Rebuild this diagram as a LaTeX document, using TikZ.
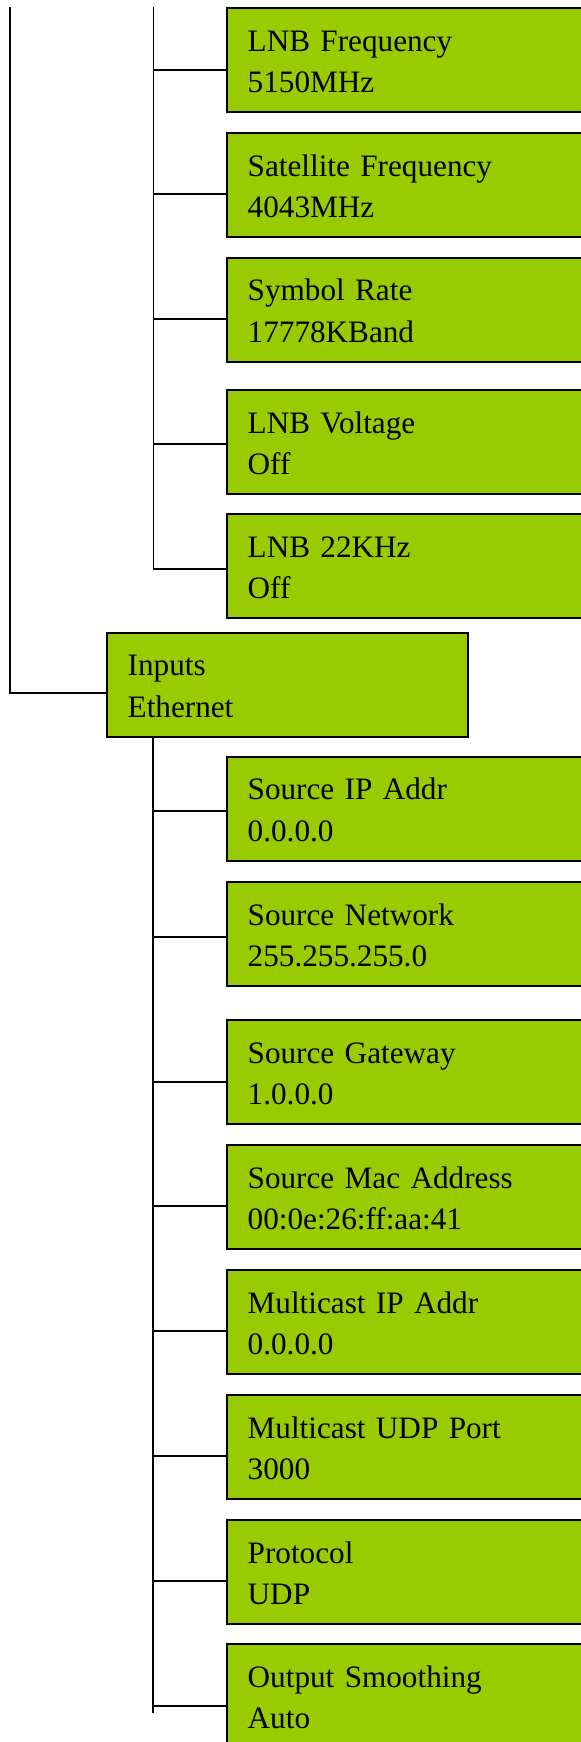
\documentclass[tikz,border=0pt]{standalone}
\usepackage{fontspec}
\setmainfont{Liberation Serif}
\definecolor{boxgreen}{RGB}{153,204,0}
\newcommand\menufont{\fontsize{15.6pt}{20.75pt}\selectfont}
\tikzset{
  menubox/.style={draw=black, line width=1pt, fill=boxgreen, anchor=north west,
    inner xsep=10.5pt, inner ysep=0pt, align=left, font=\menufont,
    text height=21.5pt, text depth=30.5pt},
  leafbox/.style={menubox, text width=169pt},
  wire/.style={draw=black, line width=0.9pt},
}
\begin{document}
\begin{tikzpicture}[x=0.5pt,y=-0.5pt]
\useasboundingbox (0,0) rectangle (581,1742);
\fill[white] (0,0) rectangle (581,1742);
\clip (0,0) rectangle (581,1742);
% upper leaf boxes
\node[leafbox] (b1) at (225.7,7.3) {LNB Frequency\\5150MHz};
\node[leafbox] (b2) at (225.7,132) {Satellite Frequency\\4043MHz};
\node[leafbox] (b3) at (225.7,256.7) {Symbol Rate\\17778KBand};
\node[leafbox] (b4) at (225.7,389) {LNB Voltage\\Off};
\node[leafbox] (b5) at (225.7,513) {LNB 22KHz\\Off};
% inputs box
\node[menubox, text width=159.5pt] (inp) at (105.7,631.7) {Inputs\\Ethernet};
% lower leaf boxes
\node[leafbox] (c1) at (225.7,755.7) {Source IP Addr\\0.0.0.0};
\node[leafbox] (c2) at (225.7,881) {Source Network\\255.255.255.0};
\node[leafbox] (c3) at (225.7,1019) {Source Gateway\\1.0.0.0};
\node[leafbox] (c4) at (225.7,1144) {Source Mac Address\\00:0e:26:ff:aa:41};
\node[leafbox] (c5) at (225.7,1269) {Multicast IP Addr\\0.0.0.0};
\node[leafbox] (c6) at (225.7,1394) {Multicast UDP Port\\3000};
\node[leafbox] (c7) at (225.7,1519) {Protocol\\UDP};
\node[leafbox] (c8) at (225.7,1643) {Output Smoothing\\Auto};
% outer spine
\coordinate (o0) at (10,7);
\coordinate (o1) at (10,693);
\draw[wire] (o0) -- (o1) -- (o1 -| inp.west);
% upper spine
\coordinate (u0) at (153.5,7);
\coordinate (u1) at (153.5,70);
\coordinate (u2) at (153.5,194);
\coordinate (u3) at (153.5,319.3);
\coordinate (u4) at (153.5,444.3);
\coordinate (u5) at (153.5,569);
\draw[wire] (u0) -- (u5) -- (u5 -| b5.west);
\draw[wire] (u1) -- (u1 -| b1.west);
\draw[wire] (u2) -- (u2 -| b2.west);
\draw[wire] (u3) -- (u3 -| b3.west);
\draw[wire] (u4) -- (u4 -| b4.west);
% lower spine
\coordinate (l1) at (153,811);
\coordinate (l2) at (153,937);
\coordinate (l3) at (153,1082);
\coordinate (l4) at (153,1206);
\coordinate (l5) at (153,1331);
\coordinate (l6) at (153,1456);
\coordinate (l7) at (153,1581);
\coordinate (l8) at (153,1706);
\coordinate (lend) at (153,1713);
\draw[wire] (inp.south -| lend) -- (lend);
\draw[wire] (l1) -- (l1 -| c1.west);
\draw[wire] (l2) -- (l2 -| c2.west);
\draw[wire] (l3) -- (l3 -| c3.west);
\draw[wire] (l4) -- (l4 -| c4.west);
\draw[wire] (l5) -- (l5 -| c5.west);
\draw[wire] (l6) -- (l6 -| c6.west);
\draw[wire] (l7) -- (l7 -| c7.west);
\draw[wire] (l8) -- (l8 -| c8.west);
\end{tikzpicture}
\end{document}
